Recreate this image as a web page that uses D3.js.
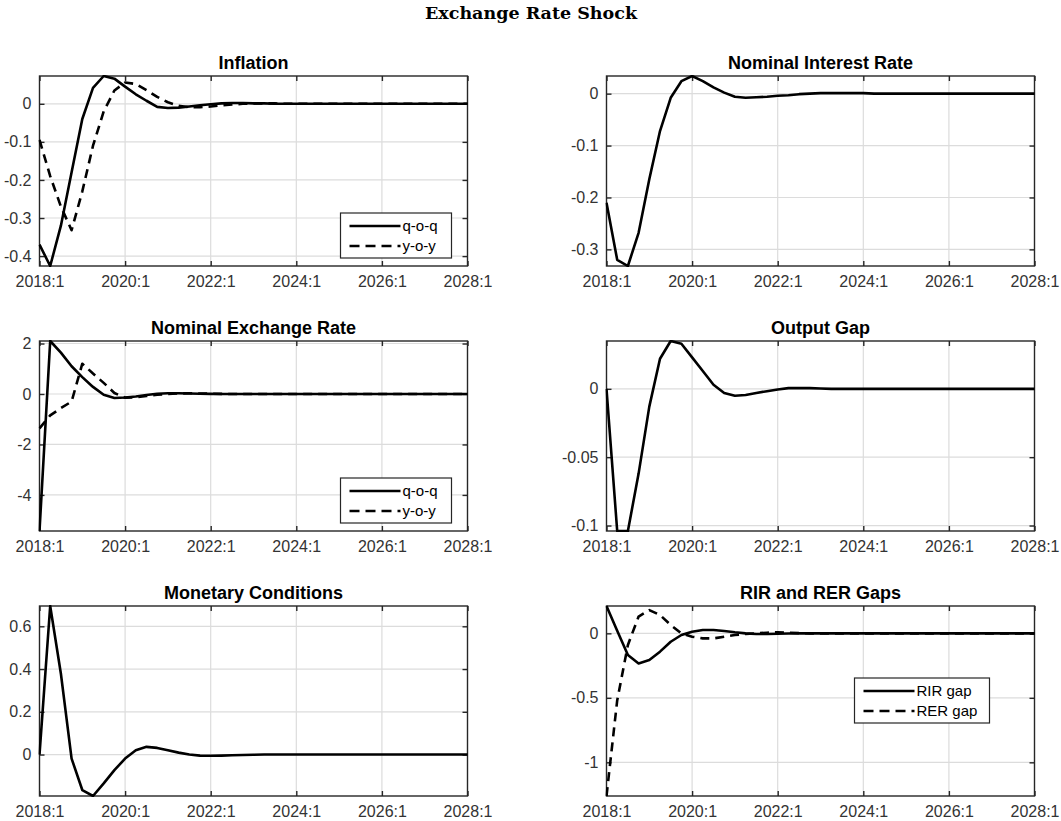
<!DOCTYPE html>
<html>
<head>
<meta charset="utf-8">
<script src="https://cdn.jsdelivr.net/npm/d3@7"></script>
<style>
  body { margin: 0; background: #fff; }
</style>
</head>
<body>
<div id="chart"></div>
<script>
// quarterly horizon, 2018:1 .. 2028:1
var xTicks = [0, 8, 16, 24, 32, 40],
    xTickLabels = ["2018:1", "2020:1", "2022:1", "2024:1", "2026:1", "2028:1"];

var inflQoq = [-0.37, -0.426, -0.32, -0.18, -0.04, 0.042, 0.073, 0.066, 0.045, 0.025,
               0.008, -0.008, -0.011, -0.01, -0.007, -0.004, -0.001, 0.001, 0.002, 0.002,
               0.001, 0.001, 0, 0, 0, 0, 0, 0, 0, 0,
               0, 0, 0, 0, 0, 0, 0, 0, 0, 0, 0];
var inflYoy = [-0.095, -0.19, -0.27, -0.332, -0.23, -0.11, -0.02, 0.035, 0.056, 0.052,
               0.036, 0.018, 0.004, -0.005, -0.009, -0.009, -0.007, -0.004, -0.002, 0,
               0.001, 0.001, 0.001, 0, 0, 0, 0, 0, 0, 0,
               0, 0, 0, 0, 0, 0, 0, 0, 0, 0, 0];
var interest = [-0.21, -0.32, -0.332, -0.268, -0.165, -0.072, -0.008, 0.024, 0.034, 0.024,
                0.012, 0.002, -0.006, -0.008, -0.007, -0.006, -0.004, -0.003, -0.001, 0,
                0.001, 0.001, 0.001, 0.001, 0.001, 0, 0, 0, 0, 0,
                0, 0, 0, 0, 0, 0, 0, 0, 0, 0, 0];
var nerQoq = [-5.43, 2.1, 1.64, 1.1, 0.67, 0.28, -0.03, -0.16, -0.14, -0.1,
              -0.04, 0.01, 0.03, 0.03, 0.02, 0.01, 0.005, 0, 0, 0,
              0, 0, 0, 0, 0, 0, 0, 0, 0, 0,
              0, 0, 0, 0, 0, 0, 0, 0, 0, 0, 0];
var nerYoy = [-1.36, -0.85, -0.56, -0.3, 1.2, 0.81, 0.44, 0.04, -0.15, -0.13,
              -0.08, -0.03, 0, 0.02, 0.03, 0.02, 0.01, 0.005, 0, 0,
              0, 0, 0, 0, 0, 0, 0, 0, 0, 0,
              0, 0, 0, 0, 0, 0, 0, 0, 0, 0, 0];
var outputGap = [0, -0.104, -0.104, -0.062, -0.013, 0.022, 0.035, 0.033, 0.023, 0.013,
                 0.003, -0.003, -0.005, -0.0045, -0.003, -0.0017, -0.0005, 0.0005, 0.0005, 0.0005,
                 0.0003, 0, 0, 0, 0, 0, 0, 0, 0, 0,
                 0, 0, 0, 0, 0, 0, 0, 0, 0, 0, 0];
var monCond = [0, 0.695, 0.378, -0.019, -0.166, -0.194, -0.135, -0.073, -0.019, 0.02,
               0.036, 0.031, 0.02, 0.009, 0, -0.005, -0.006, -0.005, -0.003, -0.002,
               -0.001, 0, 0, 0, 0, 0, 0, 0, 0, 0,
               0, 0, 0, 0, 0, 0, 0, 0, 0, 0, 0];
var rirGap = [0.212, 0.02, -0.168, -0.233, -0.207, -0.142, -0.065, -0.013, 0.013, 0.026,
              0.026, 0.018, 0.008, 0, -0.005, -0.005, -0.003, -0.001, 0, 0,
              0, 0, 0, 0, 0, 0, 0, 0, 0, 0,
              0, 0, 0, 0, 0, 0, 0, 0, 0, 0, 0];
var rerGap = [-1.261, -0.52, -0.09, 0.13, 0.18, 0.142, 0.065, 0, -0.026, -0.039,
              -0.039, -0.026, -0.013, -0.005, 0, 0.005, 0.008, 0.005, 0.002, 0,
              0, 0, 0, 0, 0, 0, 0, 0, 0, 0,
              0, 0, 0, 0, 0, 0, 0, 0, 0, 0, 0];

var inflTicks = [-0.4, -0.3, -0.2, -0.1, 0],
    interestTicks = [-0.3, -0.2, -0.1, 0],
    nerTicks = [-4, -2, 0, 2],
    gapTicks = [-0.1, -0.05, 0],
    mcTicks = [0, 0.2, 0.4, 0.6],
    rirTicks = [-1, -0.5, 0];

var width = 1061,
    height = 821,
    colX = [39.5, 606.5],
    rowY = [76, 341, 606],
    pw = 428,
    ph = 190,
    axisColor = "#262626",
    lineW = 2.6,
    dash = "9,6";

var svg = d3.select("#chart").append("svg")
    .attr("width", width)
    .attr("height", height)
    .style("font-family", "'Liberation Sans', Arial, sans-serif");

svg.append("rect")
    .attr("width", width)
    .attr("height", height)
    .attr("fill", "#fff");

svg.append("text")
    .text("Exchange Rate Shock")
    .attr("x", 531)
    .attr("y", 19)
    .attr("text-anchor", "middle")
    .style("font-family", "'DejaVu Serif', serif")
    .style("font-weight", "bold")
    .style("font-size", "17.5px")
    .attr("fill", "#000");

var panels = [
  {title: "Inflation", col: 0, row: 0, series: [inflQoq, inflYoy], ticks: inflTicks,
   legend: {labels: ["q-o-q", "y-o-y"], x: 301, y: 137, w: 111}},
  {title: "Nominal Interest Rate", col: 1, row: 0, series: [interest], ticks: interestTicks},
  {title: "Nominal Exchange Rate", col: 0, row: 1, series: [nerQoq, nerYoy], ticks: nerTicks,
   legend: {labels: ["q-o-q", "y-o-y"], x: 301, y: 137, w: 111}},
  {title: "Output Gap", col: 1, row: 1, series: [outputGap], ticks: gapTicks},
  {title: "Monetary Conditions", col: 0, row: 2, series: [monCond], ticks: mcTicks},
  {title: "RIR and RER Gaps", col: 1, row: 2, series: [rirGap, rerGap], ticks: rirTicks,
   legend: {labels: ["RIR gap", "RER gap"], x: 248, y: 72, w: 135}}
];

var x = d3.scaleLinear().domain([0, 40]).range([0, pw]);

panels.forEach(function (p, pi) {
  var g = svg.append("g")
      .attr("transform", "translate(" + colX[p.col] + "," + rowY[p.row] + ")");

  var all = [].concat.apply([], p.series);
  var y = d3.scaleLinear().domain(d3.extent(all)).range([ph, 0]);

  // grid
  g.selectAll("line.vgrid")
    .data(xTicks.slice(1, -1))
    .enter().append("line")
      .attr("class", "vgrid")
      .attr("x1", function (d) { return x(d); })
      .attr("x2", function (d) { return x(d); })
      .attr("y1", 0)
      .attr("y2", ph)
      .attr("stroke", "#dcdcdc")
      .attr("stroke-width", 1.2);

  g.selectAll("line.hgrid")
    .data(p.ticks)
    .enter().append("line")
      .attr("class", "hgrid")
      .attr("x1", 0)
      .attr("x2", pw)
      .attr("y1", function (d) { return y(d); })
      .attr("y2", function (d) { return y(d); })
      .attr("stroke", "#dcdcdc")
      .attr("stroke-width", 1.2);

  // axes, ticks pointing inwards on all four sides
  var xb = g.append("g")
      .attr("transform", "translate(0," + ph + ")")
      .call(d3.axisBottom(x).tickValues(xTicks).tickSize(-5).tickPadding(10)
        .tickFormat(function (d, i) { return xTickLabels[i]; }));
  var xt = g.append("g")
      .call(d3.axisTop(x).tickValues(xTicks).tickSize(-5).tickFormat(""));
  var yl = g.append("g")
      .call(d3.axisLeft(y).tickValues(p.ticks).tickSize(-5).tickPadding(8)
        .tickFormat(function (d) { return String(d); }));
  var yr = g.append("g")
      .attr("transform", "translate(" + pw + ",0)")
      .call(d3.axisRight(y).tickValues(p.ticks).tickSize(-5).tickFormat(""));

  [xb, xt, yl, yr].forEach(function (a) {
    a.select(".domain").remove();
    a.selectAll(".tick line").attr("stroke", axisColor).attr("stroke-width", 1.4);
    a.selectAll(".tick text")
      .attr("fill", "#333")
      .style("font-family", "'Liberation Sans', Arial, sans-serif")
      .style("font-size", "16px");
  });

  g.append("rect")
    .attr("width", pw)
    .attr("height", ph)
    .attr("fill", "none")
    .attr("stroke", axisColor)
    .attr("stroke-width", 1.4);

  g.append("text")
    .text(p.title)
    .attr("x", pw / 2)
    .attr("y", -7)
    .attr("text-anchor", "middle")
    .style("font-weight", "bold")
    .style("font-size", "18px")
    .attr("fill", "#000");

  // data lines
  g.append("clipPath")
    .attr("id", "clip" + pi)
    .append("rect")
      .attr("x", -1)
      .attr("y", -1)
      .attr("width", pw + 2)
      .attr("height", ph + 2);

  var line = d3.line()
      .x(function (d, i) { return x(i); })
      .y(function (d) { return y(d); });

  g.append("g")
    .attr("clip-path", "url(#clip" + pi + ")")
    .selectAll("path.series")
    .data(p.series.slice().reverse())
    .enter().append("path")
      .attr("class", "series")
      .attr("d", line)
      .attr("fill", "none")
      .attr("stroke", "#000")
      .attr("stroke-width", lineW)
      .attr("stroke-linejoin", "round")
      .attr("stroke-dasharray", function (d, i) {
        return (p.series.length > 1 && i === 0) ? dash : null;
      });

  // legend
  if (p.legend) {
    var L = p.legend;
    var lg = g.append("g").attr("transform", "translate(" + L.x + "," + L.y + ")");
    lg.append("rect")
      .attr("width", L.w)
      .attr("height", 45)
      .attr("fill", "#fff")
      .attr("stroke", axisColor)
      .attr("stroke-width", 1.2);
    lg.selectAll("line.key")
      .data(L.labels)
      .enter().append("line")
        .attr("class", "key")
        .attr("x1", 9)
        .attr("x2", 60)
        .attr("y1", function (d, i) { return 13 + i * 20; })
        .attr("y2", function (d, i) { return 13 + i * 20; })
        .attr("stroke", "#000")
        .attr("stroke-width", lineW)
        .attr("stroke-dasharray", function (d, i) { return i === 1 ? "10,6" : null; });
    lg.selectAll("text.key")
      .data(L.labels)
      .enter().append("text")
        .attr("class", "key")
        .text(function (d) { return d; })
        .attr("x", 62)
        .attr("y", function (d, i) { return 13 + i * 20; })
        .attr("dy", "0.35em")
        .style("font-size", "15px")
        .attr("fill", "#000");
  }
});
</script>
</body>
</html>
